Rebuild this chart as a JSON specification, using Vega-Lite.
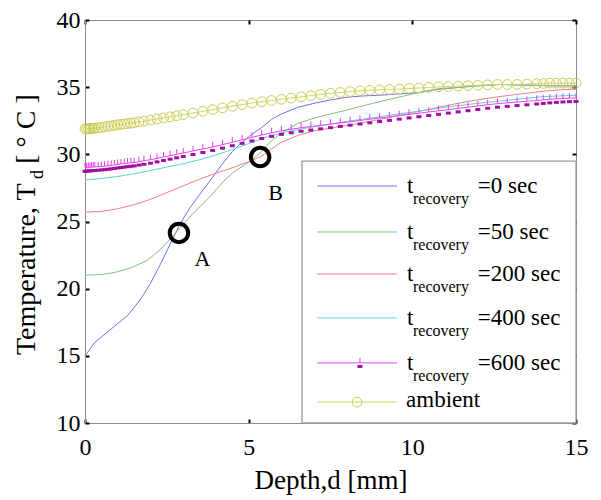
{
  "$schema": "https://vega.github.io/schema/vega-lite/v6.json",
  "width": 491,
  "height": 403,
  "autosize": {"type": "none"},
  "padding": {"left": 85, "top": 20, "right": 25, "bottom": 77},
  "background": "white",
  "data": {"values": [{}]},
  "config": {
    "view": {"stroke": "#8c8c8c", "strokeWidth": 1},
    "font": "Liberation Serif",
    "axis": {"grid": false, "labelFont": "Liberation Serif", "labelFontSize": 24, "labelColor": "#000", "titleFont": "Liberation Serif", "titleFontSize": 27, "titleFontWeight": "normal", "titleColor": "#000", "tickColor": "#000", "tickWidth": 2, "tickSize": -4, "domainColor": "#8c8c8c", "domainWidth": 1, "labelFlush": false, "labelOverlap": false}
  },
  "datasets": {
    "curves": [
      {"s":"0 sec","d":0,"T":15.0},{"s":"0 sec","d":0.3,"T":16.0},{"s":"0 sec","d":0.7,"T":16.8},{"s":"0 sec","d":1.0,"T":17.4},{"s":"0 sec","d":1.3,"T":18.0},{"s":"0 sec","d":1.6,"T":18.9},{"s":"0 sec","d":1.8,"T":19.6},{"s":"0 sec","d":2.0,"T":20.4},{"s":"0 sec","d":2.3,"T":21.8},{"s":"0 sec","d":2.6,"T":23.3},{"s":"0 sec","d":2.9,"T":24.8},{"s":"0 sec","d":3.2,"T":26.0},{"s":"0 sec","d":3.5,"T":27.0},{"s":"0 sec","d":3.9,"T":28.3},{"s":"0 sec","d":4.2,"T":29.3},{"s":"0 sec","d":4.5,"T":30.2},{"s":"0 sec","d":4.8,"T":30.9},{"s":"0 sec","d":5.1,"T":31.5},{"s":"0 sec","d":5.4,"T":32.0},{"s":"0 sec","d":5.7,"T":32.6},{"s":"0 sec","d":6.0,"T":33.0},{"s":"0 sec","d":6.5,"T":33.5},{"s":"0 sec","d":7.0,"T":33.8},{"s":"0 sec","d":7.5,"T":34.05},{"s":"0 sec","d":8.0,"T":34.25},{"s":"0 sec","d":8.5,"T":34.35},{"s":"0 sec","d":9.0,"T":34.4},{"s":"0 sec","d":9.6,"T":34.5},{"s":"0 sec","d":10.2,"T":34.6},{"s":"0 sec","d":10.8,"T":34.85},{"s":"0 sec","d":11.5,"T":35.0},{"s":"0 sec","d":12.0,"T":35.1},{"s":"0 sec","d":12.7,"T":35.2},{"s":"0 sec","d":13.5,"T":35.15},{"s":"0 sec","d":14.3,"T":35.1},{"s":"0 sec","d":15.0,"T":35.1},
      {"s":"50 sec","d":0,"T":21.0},{"s":"50 sec","d":0.5,"T":21.05},{"s":"50 sec","d":0.9,"T":21.2},{"s":"50 sec","d":1.4,"T":21.55},{"s":"50 sec","d":1.9,"T":22.1},{"s":"50 sec","d":2.3,"T":22.9},{"s":"50 sec","d":2.6,"T":23.7},{"s":"50 sec","d":2.9,"T":24.5},{"s":"50 sec","d":3.3,"T":25.6},{"s":"50 sec","d":3.8,"T":26.8},{"s":"50 sec","d":4.2,"T":27.9},{"s":"50 sec","d":4.5,"T":28.6},{"s":"50 sec","d":4.8,"T":29.1},{"s":"50 sec","d":5.05,"T":29.5},{"s":"50 sec","d":5.35,"T":30.1},{"s":"50 sec","d":5.65,"T":30.9},{"s":"50 sec","d":6.0,"T":31.6},{"s":"50 sec","d":6.5,"T":32.3},{"s":"50 sec","d":7.0,"T":32.7},{"s":"50 sec","d":7.5,"T":33.0},{"s":"50 sec","d":8.0,"T":33.3},{"s":"50 sec","d":8.8,"T":33.8},{"s":"50 sec","d":9.4,"T":34.15},{"s":"50 sec","d":9.84,"T":34.4},{"s":"50 sec","d":10.4,"T":34.7},{"s":"50 sec","d":10.85,"T":34.9},{"s":"50 sec","d":11.5,"T":35.0},{"s":"50 sec","d":12.0,"T":35.1},{"s":"50 sec","d":12.7,"T":35.2},{"s":"50 sec","d":13.5,"T":35.15},{"s":"50 sec","d":14.3,"T":35.1},{"s":"50 sec","d":15.0,"T":35.1},
      {"s":"200 sec","d":0,"T":25.7},{"s":"200 sec","d":0.5,"T":25.75},{"s":"200 sec","d":1.0,"T":25.95},{"s":"200 sec","d":1.5,"T":26.25},{"s":"200 sec","d":2.0,"T":26.65},{"s":"200 sec","d":2.5,"T":27.15},{"s":"200 sec","d":3.0,"T":27.65},{"s":"200 sec","d":3.5,"T":28.15},{"s":"200 sec","d":4.0,"T":28.6},{"s":"200 sec","d":4.5,"T":29.0},{"s":"200 sec","d":5.0,"T":29.45},{"s":"200 sec","d":5.35,"T":29.8},{"s":"200 sec","d":5.7,"T":30.4},{"s":"200 sec","d":6.0,"T":30.9},{"s":"200 sec","d":6.5,"T":31.4},{"s":"200 sec","d":7.0,"T":31.75},{"s":"200 sec","d":7.5,"T":31.95},{"s":"200 sec","d":8.0,"T":32.15},{"s":"200 sec","d":8.5,"T":32.35},{"s":"200 sec","d":9.0,"T":32.6},{"s":"200 sec","d":9.5,"T":32.85},{"s":"200 sec","d":10.0,"T":33.1},{"s":"200 sec","d":10.5,"T":33.35},{"s":"200 sec","d":11.0,"T":33.6},{"s":"200 sec","d":11.5,"T":33.85},{"s":"200 sec","d":12.0,"T":34.05},{"s":"200 sec","d":12.5,"T":34.25},{"s":"200 sec","d":13.0,"T":34.4},{"s":"200 sec","d":13.5,"T":34.55},{"s":"200 sec","d":14.0,"T":34.7},{"s":"200 sec","d":14.5,"T":34.8},{"s":"200 sec","d":15.0,"T":34.85},
      {"s":"400 sec","d":0,"T":28.1},{"s":"400 sec","d":0.5,"T":28.2},{"s":"400 sec","d":1.0,"T":28.35},{"s":"400 sec","d":1.5,"T":28.55},{"s":"400 sec","d":2.0,"T":28.8},{"s":"400 sec","d":2.5,"T":29.05},{"s":"400 sec","d":3.0,"T":29.3},{"s":"400 sec","d":3.5,"T":29.6},{"s":"400 sec","d":4.0,"T":29.95},{"s":"400 sec","d":4.5,"T":30.35},{"s":"400 sec","d":5.0,"T":30.8},{"s":"400 sec","d":5.5,"T":31.25},{"s":"400 sec","d":6.0,"T":31.6},{"s":"400 sec","d":6.5,"T":31.85},{"s":"400 sec","d":7.0,"T":32.05},{"s":"400 sec","d":7.5,"T":32.25},{"s":"400 sec","d":8.0,"T":32.45},{"s":"400 sec","d":9.0,"T":32.8},{"s":"400 sec","d":10.0,"T":33.15},{"s":"400 sec","d":11.0,"T":33.5},{"s":"400 sec","d":12.0,"T":33.8},{"s":"400 sec","d":13.0,"T":34.05},{"s":"400 sec","d":14.0,"T":34.3},{"s":"400 sec","d":15.0,"T":34.4},
      {"s":"600 sec","d":0,"T":29.0},{"s":"600 sec","d":0.05,"T":29.0},{"s":"600 sec","d":0.1,"T":29.02},{"s":"600 sec","d":0.15,"T":29.03},{"s":"600 sec","d":0.2,"T":29.04},{"s":"600 sec","d":0.25,"T":29.05},{"s":"600 sec","d":0.3,"T":29.06},{"s":"600 sec","d":0.4,"T":29.08},{"s":"600 sec","d":0.5,"T":29.1},{"s":"600 sec","d":0.6,"T":29.12},
      {"s":"600 sec","d":0.7,"T":29.15},{"s":"600 sec","d":0.8,"T":29.18},{"s":"600 sec","d":0.9,"T":29.21},{"s":"600 sec","d":1.0,"T":29.25},{"s":"600 sec","d":1.1,"T":29.28},{"s":"600 sec","d":1.2,"T":29.31},{"s":"600 sec","d":1.3,"T":29.34},{"s":"600 sec","d":1.4,"T":29.37},{"s":"600 sec","d":1.5,"T":29.4},{"s":"600 sec","d":1.65,"T":29.46},
      {"s":"600 sec","d":1.8,"T":29.52},{"s":"600 sec","d":2.0,"T":29.6},{"s":"600 sec","d":2.2,"T":29.7},{"s":"600 sec","d":2.4,"T":29.8},{"s":"600 sec","d":2.6,"T":29.9},{"s":"600 sec","d":2.8,"T":30.0},{"s":"600 sec","d":3.0,"T":30.1},{"s":"600 sec","d":3.3,"T":30.25},{"s":"600 sec","d":3.6,"T":30.4},{"s":"600 sec","d":3.9,"T":30.55},
      {"s":"600 sec","d":4.2,"T":30.72},{"s":"600 sec","d":4.5,"T":30.9},{"s":"600 sec","d":4.8,"T":31.08},{"s":"600 sec","d":5.1,"T":31.26},{"s":"600 sec","d":5.4,"T":31.44},{"s":"600 sec","d":5.7,"T":31.6},{"s":"600 sec","d":6.0,"T":31.75},{"s":"600 sec","d":6.3,"T":31.87},{"s":"600 sec","d":6.6,"T":31.98},{"s":"600 sec","d":6.9,"T":32.07},
      {"s":"600 sec","d":7.2,"T":32.16},{"s":"600 sec","d":7.5,"T":32.25},{"s":"600 sec","d":7.8,"T":32.34},{"s":"600 sec","d":8.1,"T":32.43},{"s":"600 sec","d":8.4,"T":32.52},{"s":"600 sec","d":8.7,"T":32.61},{"s":"600 sec","d":9.0,"T":32.7},{"s":"600 sec","d":9.3,"T":32.79},{"s":"600 sec","d":9.6,"T":32.88},{"s":"600 sec","d":9.9,"T":32.97},
      {"s":"600 sec","d":10.2,"T":33.06},{"s":"600 sec","d":10.5,"T":33.15},{"s":"600 sec","d":10.8,"T":33.24},{"s":"600 sec","d":11.1,"T":33.33},{"s":"600 sec","d":11.4,"T":33.42},{"s":"600 sec","d":11.7,"T":33.51},{"s":"600 sec","d":12.0,"T":33.6},{"s":"600 sec","d":12.3,"T":33.69},{"s":"600 sec","d":12.6,"T":33.77},{"s":"600 sec","d":12.9,"T":33.83},
      {"s":"600 sec","d":13.2,"T":33.89},{"s":"600 sec","d":13.5,"T":33.95},{"s":"600 sec","d":13.8,"T":34.01},{"s":"600 sec","d":14.0,"T":34.05},{"s":"600 sec","d":14.2,"T":34.09},{"s":"600 sec","d":14.4,"T":34.13},{"s":"600 sec","d":14.6,"T":34.16},{"s":"600 sec","d":14.8,"T":34.18},{"s":"600 sec","d":15.0,"T":34.2},
      {"s":"ambient","d":0,"T":31.9},{"s":"ambient","d":0.05,"T":31.9},{"s":"ambient","d":0.1,"T":31.91},{"s":"ambient","d":0.15,"T":31.92},{"s":"ambient","d":0.2,"T":31.93},{"s":"ambient","d":0.25,"T":31.94},{"s":"ambient","d":0.3,"T":31.95},{"s":"ambient","d":0.4,"T":31.97},{"s":"ambient","d":0.5,"T":32.0},{"s":"ambient","d":0.6,"T":32.04},
      {"s":"ambient","d":0.7,"T":32.08},{"s":"ambient","d":0.8,"T":32.12},{"s":"ambient","d":0.9,"T":32.16},{"s":"ambient","d":1.0,"T":32.2},{"s":"ambient","d":1.1,"T":32.23},{"s":"ambient","d":1.2,"T":32.26},{"s":"ambient","d":1.3,"T":32.29},{"s":"ambient","d":1.4,"T":32.32},{"s":"ambient","d":1.5,"T":32.35},{"s":"ambient","d":1.65,"T":32.41},
      {"s":"ambient","d":1.8,"T":32.47},{"s":"ambient","d":2.0,"T":32.55},{"s":"ambient","d":2.2,"T":32.63},{"s":"ambient","d":2.4,"T":32.71},{"s":"ambient","d":2.6,"T":32.79},{"s":"ambient","d":2.8,"T":32.87},{"s":"ambient","d":3.0,"T":32.95},{"s":"ambient","d":3.3,"T":33.07},{"s":"ambient","d":3.6,"T":33.2},{"s":"ambient","d":3.9,"T":33.33},
      {"s":"ambient","d":4.2,"T":33.46},{"s":"ambient","d":4.5,"T":33.58},{"s":"ambient","d":4.8,"T":33.7},{"s":"ambient","d":5.1,"T":33.82},{"s":"ambient","d":5.4,"T":33.92},{"s":"ambient","d":5.7,"T":34.01},{"s":"ambient","d":6.0,"T":34.1},{"s":"ambient","d":6.3,"T":34.19},{"s":"ambient","d":6.6,"T":34.28},{"s":"ambient","d":6.9,"T":34.37},
      {"s":"ambient","d":7.2,"T":34.46},{"s":"ambient","d":7.5,"T":34.55},{"s":"ambient","d":7.8,"T":34.61},{"s":"ambient","d":8.1,"T":34.67},{"s":"ambient","d":8.4,"T":34.73},{"s":"ambient","d":8.7,"T":34.77},{"s":"ambient","d":9.0,"T":34.8},{"s":"ambient","d":9.3,"T":34.83},{"s":"ambient","d":9.6,"T":34.86},{"s":"ambient","d":9.9,"T":34.9},
      {"s":"ambient","d":10.2,"T":34.94},{"s":"ambient","d":10.5,"T":34.98},{"s":"ambient","d":10.8,"T":35.02},{"s":"ambient","d":11.1,"T":35.05},{"s":"ambient","d":11.4,"T":35.08},{"s":"ambient","d":11.7,"T":35.11},{"s":"ambient","d":12.0,"T":35.14},{"s":"ambient","d":12.3,"T":35.17},{"s":"ambient","d":12.6,"T":35.2},{"s":"ambient","d":12.9,"T":35.2},
      {"s":"ambient","d":13.2,"T":35.21},{"s":"ambient","d":13.5,"T":35.23},{"s":"ambient","d":13.8,"T":35.26},{"s":"ambient","d":14.0,"T":35.28},{"s":"ambient","d":14.2,"T":35.3},{"s":"ambient","d":14.4,"T":35.3},{"s":"ambient","d":14.6,"T":35.3},{"s":"ambient","d":14.8,"T":35.3},{"s":"ambient","d":15.0,"T":35.3}
    ]
  },
  "layer": [
    {
      "data": {"name": "curves"},
      "mark": {"type": "line", "strokeWidth": 1},
      "encoding": {
        "x": {"field": "d", "type": "quantitative", "scale": {"domain": [0, 15], "nice": false, "zero": false}, "axis": {"orient": "bottom", "values": [0, 5, 10, 15], "title": "Depth,d [mm]", "labelFont": "Liberation Serif", "titleFont": "Liberation Serif", "labelPadding": 16, "titlePadding": 8}},
        "y": {"field": "T", "type": "quantitative", "scale": {"domain": [10, 40], "nice": false, "zero": false}, "axis": {"orient": "left", "values": [10, 15, 20, 25, 30, 35, 40], "title": null, "labelFont": "Liberation Serif", "labelPadding": 9}},
        "color": {"field": "s", "type": "nominal", "scale": {"domain": ["0 sec", "50 sec", "200 sec", "400 sec", "600 sec", "ambient"], "range": ["#7070ee", "#80c080", "#f08080", "#60d0e0", "#ee44ee", "#d4d466"]}, "legend": null}
      }
    },
    {
      "data": {"name": "curves"},
      "transform": [{"filter": "datum.s == 'ambient'"}],
      "mark": {"type": "point", "shape": "circle", "filled": false, "stroke": "#cccc55", "strokeWidth": 1, "size": 95, "opacity": 1},
      "encoding": {
        "x": {"field": "d", "type": "quantitative", "axis": {"orient": "top", "values": [0, 5, 10, 15], "labels": false, "title": null, "domain": false}},
        "y": {"field": "T", "type": "quantitative", "axis": {"orient": "right", "values": [10, 15, 20, 25, 30, 35, 40], "labels": false, "title": null, "domain": false}}
      }
    },
    {
      "data": {"name": "curves"},
      "transform": [{"filter": "datum.s == '600 sec'"}],
      "mark": {"type": "point", "shape": "M0,-1L0,0", "filled": false, "stroke": "#e040e0", "strokeWidth": 1, "size": 100, "opacity": 1},
      "encoding": {
        "x": {"field": "d", "type": "quantitative", "axis": null},
        "y": {"field": "T", "type": "quantitative", "axis": null}
      }
    },
    {
      "data": {"name": "curves"},
      "transform": [{"filter": "datum.s == '600 sec'"}],
      "mark": {"type": "point", "shape": "M-0.5,0.4L0.5,0.4L0.5,1.0L-0.5,1.0Z", "filled": true, "fill": "#a010a0", "strokeWidth": 0, "size": 100, "opacity": 1},
      "encoding": {
        "x": {"field": "d", "type": "quantitative", "axis": null},
        "y": {"field": "T", "type": "quantitative", "axis": null}
      }
    },
    {"mark": {"type": "point", "shape": "circle", "filled": false, "stroke": "black", "strokeWidth": 4, "size": 340, "opacity": 1},
     "encoding": {"x": {"datum": 2.87, "type": "quantitative", "axis": null}, "y": {"datum": 24.15, "type": "quantitative", "axis": null}}},
    {"mark": {"type": "point", "shape": "circle", "filled": false, "stroke": "black", "strokeWidth": 4, "size": 340, "opacity": 1},
     "encoding": {"x": {"datum": 5.35, "type": "quantitative", "axis": null}, "y": {"datum": 29.8, "type": "quantitative", "axis": null}}},
    {"mark": {"type": "text", "text": "A", "font": "Liberation Serif", "fontSize": 22, "align": "center", "baseline": "middle", "color": "black"},
     "encoding": {"x": {"datum": 3.59, "type": "quantitative", "axis": null}, "y": {"datum": 22.2, "type": "quantitative", "axis": null}}},
    {"mark": {"type": "text", "text": "B", "font": "Liberation Serif", "fontSize": 22, "align": "center", "baseline": "middle", "color": "black"},
     "encoding": {"x": {"datum": 5.82, "type": "quantitative", "axis": null}, "y": {"datum": 27.1, "type": "quantitative", "axis": null}}},
    {"mark": {"type": "text", "text": "Temperature, T", "font": "Liberation Serif", "fontSize": 28, "align": "left", "baseline": "alphabetic", "angle": 270, "color": "black"},
     "encoding": {"x": {"datum": -1.53, "type": "quantitative", "axis": null}, "y": {"datum": 15.06, "type": "quantitative", "axis": null}}},
    {"mark": {"type": "text", "text": "d", "font": "Liberation Serif", "fontSize": 18, "align": "left", "baseline": "alphabetic", "angle": 270, "color": "black"},
     "encoding": {"x": {"datum": -1.28, "type": "quantitative", "axis": null}, "y": {"datum": 28.16, "type": "quantitative", "axis": null}}},
    {"mark": {"type": "text", "text": "[ ° C ]", "font": "Liberation Serif", "fontSize": 28, "align": "left", "baseline": "alphabetic", "angle": 270, "color": "black"},
     "encoding": {"x": {"datum": -1.53, "type": "quantitative", "axis": null}, "y": {"datum": 29.3, "type": "quantitative", "axis": null}}},
    {"mark": {"type": "rect", "fill": "white", "stroke": "#9a9a9a", "strokeWidth": 1.3},
     "encoding": {"x": {"datum": 6.63, "type": "quantitative", "axis": null}, "x2": {"datum": 15}, "y": {"datum": 29.5, "type": "quantitative", "axis": null}, "y2": {"datum": 10}}},
    {"mark": {"type": "rule", "color": "#7070ee", "strokeWidth": 1}, "encoding": {"x": {"datum": 7.09, "type": "quantitative", "axis": null}, "x2": {"datum": 9.53}, "y": {"datum": 27.64, "type": "quantitative", "axis": null}}},
    {"mark": {"type": "rule", "color": "#80c080", "strokeWidth": 1}, "encoding": {"x": {"datum": 7.09, "type": "quantitative", "axis": null}, "x2": {"datum": 9.53}, "y": {"datum": 24.22, "type": "quantitative", "axis": null}}},
    {"mark": {"type": "rule", "color": "#f08080", "strokeWidth": 1}, "encoding": {"x": {"datum": 7.09, "type": "quantitative", "axis": null}, "x2": {"datum": 9.53}, "y": {"datum": 21.09, "type": "quantitative", "axis": null}}},
    {"mark": {"type": "rule", "color": "#60d0e0", "strokeWidth": 1}, "encoding": {"x": {"datum": 7.09, "type": "quantitative", "axis": null}, "x2": {"datum": 9.53}, "y": {"datum": 17.82, "type": "quantitative", "axis": null}}},
    {"mark": {"type": "rule", "color": "#ee44ee", "strokeWidth": 1}, "encoding": {"x": {"datum": 7.09, "type": "quantitative", "axis": null}, "x2": {"datum": 9.53}, "y": {"datum": 14.47, "type": "quantitative", "axis": null}}},
    {"mark": {"type": "rule", "color": "#d4d466", "strokeWidth": 1}, "encoding": {"x": {"datum": 7.09, "type": "quantitative", "axis": null}, "x2": {"datum": 9.53}, "y": {"datum": 11.56, "type": "quantitative", "axis": null}}},
    {"mark": {"type": "point", "shape": "M0,-1L0,0", "filled": false, "stroke": "#e040e0", "strokeWidth": 1, "size": 100, "opacity": 1},
     "encoding": {"x": {"datum": 8.4, "type": "quantitative", "axis": null}, "y": {"datum": 14.47, "type": "quantitative", "axis": null}}},
    {"mark": {"type": "point", "shape": "M-0.5,0.4L0.5,0.4L0.5,1.0L-0.5,1.0Z", "filled": true, "fill": "#a010a0", "strokeWidth": 0, "size": 100, "opacity": 1},
     "encoding": {"x": {"datum": 8.4, "type": "quantitative", "axis": null}, "y": {"datum": 14.47, "type": "quantitative", "axis": null}}},
    {"mark": {"type": "point", "shape": "circle", "filled": false, "stroke": "#cccc55", "strokeWidth": 1, "size": 95, "opacity": 1},
     "encoding": {"x": {"datum": 8.31, "type": "quantitative", "axis": null}, "y": {"datum": 11.56, "type": "quantitative", "axis": null}}},
    {"mark": {"type": "text", "text": "t", "font": "Liberation Serif", "fontSize": 23, "align": "left", "baseline": "alphabetic", "dy": 7, "color": "black"}, "encoding": {"x": {"datum": 9.84, "type": "quantitative", "axis": null}, "y": {"datum": 27.64, "type": "quantitative", "axis": null}}},
    {"mark": {"type": "text", "text": "recovery", "font": "Liberation Serif", "fontSize": 16, "align": "left", "baseline": "alphabetic", "dy": 18, "color": "black"}, "encoding": {"x": {"datum": 10.02, "type": "quantitative", "axis": null}, "y": {"datum": 27.64, "type": "quantitative", "axis": null}}},
    {"mark": {"type": "text", "text": "=0 sec", "font": "Liberation Serif", "fontSize": 23, "align": "left", "baseline": "alphabetic", "dy": 7, "color": "black"}, "encoding": {"x": {"datum": 12.0, "type": "quantitative", "axis": null}, "y": {"datum": 27.64, "type": "quantitative", "axis": null}}},
    {"mark": {"type": "text", "text": "t", "font": "Liberation Serif", "fontSize": 23, "align": "left", "baseline": "alphabetic", "dy": 7, "color": "black"}, "encoding": {"x": {"datum": 9.84, "type": "quantitative", "axis": null}, "y": {"datum": 24.22, "type": "quantitative", "axis": null}}},
    {"mark": {"type": "text", "text": "recovery", "font": "Liberation Serif", "fontSize": 16, "align": "left", "baseline": "alphabetic", "dy": 18, "color": "black"}, "encoding": {"x": {"datum": 10.02, "type": "quantitative", "axis": null}, "y": {"datum": 24.22, "type": "quantitative", "axis": null}}},
    {"mark": {"type": "text", "text": "=50 sec", "font": "Liberation Serif", "fontSize": 23, "align": "left", "baseline": "alphabetic", "dy": 7, "color": "black"}, "encoding": {"x": {"datum": 12.0, "type": "quantitative", "axis": null}, "y": {"datum": 24.22, "type": "quantitative", "axis": null}}},
    {"mark": {"type": "text", "text": "t", "font": "Liberation Serif", "fontSize": 23, "align": "left", "baseline": "alphabetic", "dy": 7, "color": "black"}, "encoding": {"x": {"datum": 9.84, "type": "quantitative", "axis": null}, "y": {"datum": 21.09, "type": "quantitative", "axis": null}}},
    {"mark": {"type": "text", "text": "recovery", "font": "Liberation Serif", "fontSize": 16, "align": "left", "baseline": "alphabetic", "dy": 18, "color": "black"}, "encoding": {"x": {"datum": 10.02, "type": "quantitative", "axis": null}, "y": {"datum": 21.09, "type": "quantitative", "axis": null}}},
    {"mark": {"type": "text", "text": "=200 sec", "font": "Liberation Serif", "fontSize": 23, "align": "left", "baseline": "alphabetic", "dy": 7, "color": "black"}, "encoding": {"x": {"datum": 12.0, "type": "quantitative", "axis": null}, "y": {"datum": 21.09, "type": "quantitative", "axis": null}}},
    {"mark": {"type": "text", "text": "t", "font": "Liberation Serif", "fontSize": 23, "align": "left", "baseline": "alphabetic", "dy": 7, "color": "black"}, "encoding": {"x": {"datum": 9.84, "type": "quantitative", "axis": null}, "y": {"datum": 17.82, "type": "quantitative", "axis": null}}},
    {"mark": {"type": "text", "text": "recovery", "font": "Liberation Serif", "fontSize": 16, "align": "left", "baseline": "alphabetic", "dy": 18, "color": "black"}, "encoding": {"x": {"datum": 10.02, "type": "quantitative", "axis": null}, "y": {"datum": 17.82, "type": "quantitative", "axis": null}}},
    {"mark": {"type": "text", "text": "=400 sec", "font": "Liberation Serif", "fontSize": 23, "align": "left", "baseline": "alphabetic", "dy": 7, "color": "black"}, "encoding": {"x": {"datum": 12.0, "type": "quantitative", "axis": null}, "y": {"datum": 17.82, "type": "quantitative", "axis": null}}},
    {"mark": {"type": "text", "text": "t", "font": "Liberation Serif", "fontSize": 23, "align": "left", "baseline": "alphabetic", "dy": 7, "color": "black"}, "encoding": {"x": {"datum": 9.84, "type": "quantitative", "axis": null}, "y": {"datum": 14.47, "type": "quantitative", "axis": null}}},
    {"mark": {"type": "text", "text": "recovery", "font": "Liberation Serif", "fontSize": 16, "align": "left", "baseline": "alphabetic", "dy": 18, "color": "black"}, "encoding": {"x": {"datum": 10.02, "type": "quantitative", "axis": null}, "y": {"datum": 14.47, "type": "quantitative", "axis": null}}},
    {"mark": {"type": "text", "text": "=600 sec", "font": "Liberation Serif", "fontSize": 23, "align": "left", "baseline": "alphabetic", "dy": 7, "color": "black"}, "encoding": {"x": {"datum": 12.0, "type": "quantitative", "axis": null}, "y": {"datum": 14.47, "type": "quantitative", "axis": null}}},
    {"mark": {"type": "text", "text": "ambient", "font": "Liberation Serif", "fontSize": 23, "align": "left", "baseline": "alphabetic", "dy": 5, "color": "black"}, "encoding": {"x": {"datum": 9.81, "type": "quantitative", "axis": null}, "y": {"datum": 11.56, "type": "quantitative", "axis": null}}}
  ]
}
